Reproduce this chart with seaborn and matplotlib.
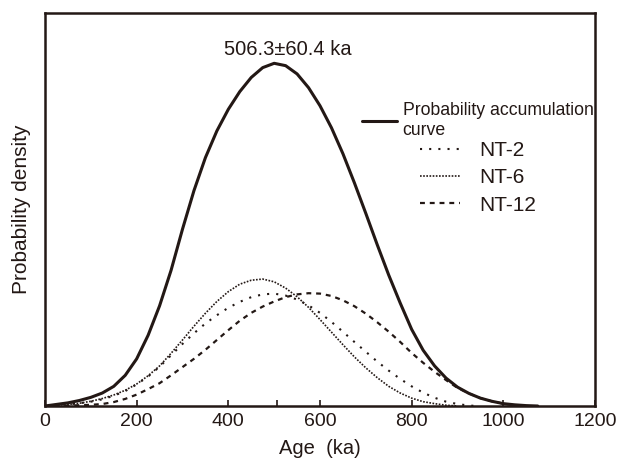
# Probability density plot of the NT sample ages with the accumulated curve
import matplotlib
matplotlib.use("Agg")
import matplotlib.pyplot as plt
from matplotlib.lines import Line2D
import seaborn as sns

# ages of the sampled points (ka)
AGE_KA = [0, 25, 50, 75, 100, 125, 150, 175, 200, 225, 250, 275, 300, 325, 350,
          375, 400, 425, 450, 475, 500, 525, 550, 575, 600, 625, 650, 675, 700,
          725, 750, 775, 800, 825, 850, 875, 900, 925, 950, 975, 1000, 1025, 1050, 1075]

# density values (scaled to the plot height)
ACCUMULATION = [0.000, 0.004, 0.008, 0.014, 0.022, 0.033, 0.050, 0.078, 0.120, 0.180,
                0.255, 0.345, 0.450, 0.548, 0.632, 0.700, 0.755, 0.800, 0.836, 0.861,
                0.872, 0.866, 0.845, 0.810, 0.764, 0.708, 0.642, 0.568, 0.490, 0.410,
                0.333, 0.262, 0.195, 0.142, 0.102, 0.071, 0.048, 0.032, 0.020, 0.012,
                0.006, 0.003, 0.001, 0.000]
NT2 = [0.000, 0.002, 0.004, 0.007, 0.011, 0.017, 0.026, 0.038, 0.055, 0.075,
       0.100, 0.129, 0.158, 0.185, 0.210, 0.231, 0.250, 0.265, 0.277, 0.284,
       0.286, 0.281, 0.271, 0.256, 0.237, 0.214, 0.189, 0.163, 0.138, 0.113,
       0.090, 0.069, 0.050, 0.034, 0.021, 0.011, 0.005, 0.001, 0.000]
NT6 = [0.000, 0.002, 0.004, 0.007, 0.012, 0.019, 0.028, 0.040, 0.056, 0.077,
       0.102, 0.134, 0.168, 0.203, 0.236, 0.266, 0.291, 0.310, 0.320, 0.323,
       0.316, 0.300, 0.278, 0.251, 0.220, 0.188, 0.156, 0.125, 0.097, 0.072,
       0.050, 0.033, 0.020, 0.011, 0.006, 0.002, 0.000]
NT12 = [0.000, 0.000, 0.001, 0.002, 0.003, 0.005, 0.010, 0.018, 0.029, 0.043,
        0.058, 0.078, 0.099, 0.120, 0.143, 0.168, 0.193, 0.217, 0.237, 0.253,
        0.266, 0.277, 0.284, 0.287, 0.286, 0.280, 0.269, 0.254, 0.235, 0.213,
        0.189, 0.163, 0.135, 0.110, 0.087, 0.066, 0.046, 0.032, 0.020, 0.012,
        0.006, 0.002, 0.000]

MEAN_AGE = 506.3
MEAN_ERR = 60.4
X_TICKS = [0, 200, 400, 600, 800, 1000, 1200]

INK = "#231815"

sns.set_theme(style="ticks")
plt.rcParams["font.family"] = ["Liberation Sans", "DejaVu Sans"]
plt.rcParams["text.color"] = INK
plt.rcParams["axes.labelcolor"] = INK
plt.rcParams["xtick.color"] = INK

fig = plt.figure(figsize=(6.17, 4.59), dpi=100)
ax = fig.add_axes([45 / 617, 1 - 406 / 459, 550 / 617, 393 / 459])

series = [
    ("Probability accumulation\ncurve", ACCUMULATION, dict(linewidth=2.2, linestyle="-")),
    ("NT-2", NT2, dict(linewidth=1.5, linestyle=(0, (1, 3.4)))),
    ("NT-6", NT6, dict(linewidth=1.2, linestyle=(0, (1, 0.9)))),
    ("NT-12", NT12, dict(linewidth=1.6, linestyle=(0, (2.2, 2.2)))),
]
for name, values, style in series:
    sns.lineplot(x=AGE_KA[:len(values)], y=values, ax=ax, color=INK, **style)

ax.set_xlim(0, 1200)
ax.set_ylim(0, 1)
ax.set_yticks([])
ax.set_xticks(X_TICKS)
ax.set_xticks([MEAN_AGE], minor=True)
ax.tick_params(axis="x", which="both", direction="in", length=4, width=1.2,
               labelsize=14, pad=5, color=INK)
for spine in ax.spines.values():
    spine.set_linewidth(1.8)
    spine.set_color(INK)

ax.set_xlabel("Age  (ka)", fontsize=14.5, labelpad=6.5)
ax.set_ylabel("Probability density", fontsize=15, labelpad=10)

ax.text(530, 0.893, f"{MEAN_AGE}\u00b1{MEAN_ERR} ka", ha="center", va="baseline", fontsize=14.5)

# two separate legends: the accumulation curve sits further left than the samples
main_handle = [Line2D([], [], color=INK, **series[0][2])]
leg1 = ax.legend(main_handle, [series[0][0]], loc="upper left",
                 bbox_to_anchor=(362 / 617, 1 - 102 / 459), bbox_transform=fig.transFigure,
                 frameon=False, fontsize=12.7, handlelength=2.0, handletextpad=0.3,
                 borderpad=0, borderaxespad=0)
ax.add_artist(leg1)
sample_handles = [Line2D([], [], color=INK, **s[2]) for s in series[1:]]
ax.legend(sample_handles, [s[0] for s in series[1:]], loc="upper left",
          bbox_to_anchor=(420 / 617, 1 - 141 / 459), bbox_transform=fig.transFigure,
          frameon=False, fontsize=15, handlelength=1.9, handletextpad=0.95,
          labelspacing=0.4, borderpad=0, borderaxespad=0)

fig.savefig("out.png", dpi=100)
